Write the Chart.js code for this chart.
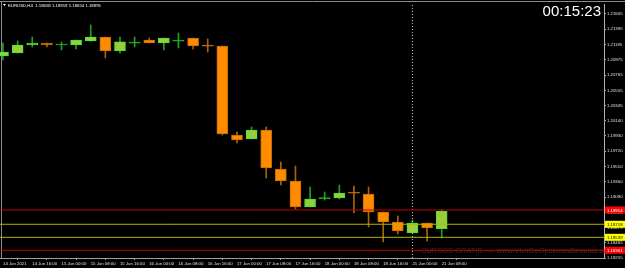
<!DOCTYPE html>
<html>
<head>
<meta charset="utf-8">
<script src="https://cdn.jsdelivr.net/npm/chart.js@4.4.0/dist/chart.umd.min.js"></script>
<style>
html,body{margin:0;padding:0;background:#000;}
#wrap{width:625px;height:268px;position:relative;}
</style>
</head>
<body>
<div id="wrap"><canvas id="c"></canvas></div>
<script>
// EURUSD H4 candles, 14 Jun 08:00 -> 21 Jun 08:00
const opens  = [1.21028,1.21070,1.21179,1.21207,1.21179,1.21179,1.21234,1.21289,1.21097,1.21205,1.21248,1.21207,1.21233,1.21275,1.21167,1.21166,1.19944,1.19889,1.20012,1.19477,1.19312,1.18955,1.19070,1.19079,1.19149,1.19134,1.18887,1.18749,1.18598,1.18736,1.18658];
const highs  = [1.21207,1.21234,1.21289,1.21207,1.21221,1.21248,1.21454,1.21289,1.21289,1.21289,1.21275,1.21275,1.21344,1.21275,1.21262,1.21166,1.19985,1.20054,1.20054,1.19573,1.19518,1.19230,1.19161,1.19257,1.19244,1.19230,1.18887,1.18832,1.18777,1.18736,1.18919];
const lows   = [1.20973,1.21070,1.21152,1.21152,1.21111,1.21124,1.21234,1.21001,1.21070,1.21152,1.21207,1.21111,1.21138,1.21124,1.21083,1.19944,1.19834,1.19889,1.19353,1.19257,1.18928,1.18955,1.19051,1.19065,1.18873,1.18681,1.18475,1.18585,1.18598,1.18488,1.18530];
const closes = [1.21083,1.21179,1.21207,1.21179,1.21182,1.21248,1.21289,1.21097,1.21221,1.21208,1.21207,1.21275,1.21236,1.21166,1.21164,1.19957,1.19875,1.20012,1.19491,1.19312,1.18955,1.19065,1.19074,1.19147,1.19146,1.18887,1.18749,1.18626,1.18736,1.18667,1.18895];

// one time label every 2 candles
const timeLabels = ["14 Jun 2021","14 Jun 16:00","15 Jun 00:00","15 Jun 08:00","15 Jun 16:00","16 Jun 00:00","16 Jun 08:00","16 Jun 16:00","17 Jun 00:00","17 Jun 08:00","17 Jun 16:00","18 Jun 00:00","18 Jun 08:00","18 Jun 16:00","21 Jun 00:00","21 Jun 08:00"];
const priceTicks = [1.21605,1.21395,1.21185,1.20975,1.20765,1.20555,1.20345,1.20140,1.19930,1.19720,1.19510,1.19300,1.19090,1.18880,1.18675,1.18465,1.18255];

const redLevels = [1.18914,1.18361];
const yellowLevels = [1.18718,1.18539];
const separatorIdx = 28;

const titleText = "EURUSD,H4  1.18658 1.18919 1.18654 1.18895";
const clockText = "00:15:23";
const watermark = "CURSOS GRATIS ---- www.VivirDeOpcionesBinarias.com";

const FONT = "'Liberation Sans', Arial, sans-serif";
const Y_MIN = 1.18255, Y_MAX = 1.21742;

const idx = opens.map((_,i)=>i);
const isDoji = i => Math.abs(opens[i]-closes[i]) < 0.00006;
const isBull = i => closes[i] >= opens[i];

const wickColor = idx.map(i => isBull(i) ? "#1ea01e" : "#a8640c");
const bodyFill = idx.map(i => isDoji(i) ? (isBull(i) ? "#22c022" : "#d07810") : (isBull(i) ? "#9ccc3c" : "#ff8c00"));
const bodyBorder = idx.map(i => isDoji(i) ? bodyFill[i] : (isBull(i) ? "#3ee83e" : "#c86a00"));

function hLine(v, color){
  return {type:"line", data:[{x:-2,y:v},{x:50,y:v}], borderColor:color, borderWidth:1,
    pointRadius:0, order:0, parsing:true};
}

const datasets = [
  {type:"bar", data:idx.map(i=>({x:i,y:[lows[i],highs[i]]})), backgroundColor:wickColor,
    barThickness:1, grouped:false, order:3, borderWidth:0},
  {type:"bar", data:idx.map(i=>({x:i,y:[opens[i],closes[i]]})), backgroundColor:bodyFill,
    borderColor:bodyBorder, borderWidth:1, borderSkipped:false, barThickness:11,
    grouped:false, order:2, minBarLength:1}
];
redLevels.forEach(v=>datasets.push(hLine(v,"#c00000")));
yellowLevels.forEach(v=>datasets.push(hLine(v,"#b4b400")));
datasets.push({type:"line", data:[{x:separatorIdx,y:Y_MIN},{x:separatorIdx,y:Y_MAX}],
  borderColor:"#c8c8c8", borderWidth:1, borderDash:[1,2], pointRadius:0, order:1});

const decor = {
  id:"decor",
  beforeDatasetsDraw(chart){
    const ctx=chart.ctx, a=chart.chartArea;
    ctx.save();
    ctx.strokeStyle="#8c8c8c"; ctx.lineWidth=1;
    ctx.beginPath(); ctx.moveTo(0,1.5); ctx.lineTo(625,1.5);
    ctx.moveTo(1.5,1); ctx.lineTo(1.5,a.bottom); ctx.stroke();
    ctx.fillStyle="#3a2c2c"; ctx.font="7.5px "+FONT; ctx.textBaseline="middle"; ctx.textAlign="left";
    ctx.fillText(watermark, 421, 250.5);
    ctx.restore();
  },
  afterDraw(chart){
    const ctx=chart.ctx, y=chart.scales.y;
    ctx.save();
    // level price boxes on the axis
    ctx.font="4.3px "+FONT; ctx.textAlign="left"; ctx.textBaseline="middle";
    const box=(v,bg,fg)=>{
      const py=y.getPixelForValue(v);
      ctx.fillStyle=bg; ctx.fillRect(605,py-3.5,20,7);
      ctx.fillStyle=fg; ctx.fillText(v.toFixed(5),607,py+0.5);
    };
    redLevels.forEach(v=>box(v,"#ff0000","#ffffff"));
    yellowLevels.forEach(v=>box(v,"#ffff00","#000000"));
    // title
    ctx.fillStyle="#ffffff";
    ctx.beginPath(); ctx.moveTo(3,4); ctx.lineTo(6,4); ctx.lineTo(4.5,6); ctx.closePath(); ctx.fill();
    ctx.fillText(titleText, 8, 5.5);
    // clock
    ctx.font="15px "+FONT; ctx.textAlign="right"; ctx.textBaseline="top";
    ctx.fillText(clockText, 601, 4);
    ctx.restore();
  }
};

new Chart(document.getElementById("c"), {
  type:"bar",
  data:{datasets:datasets},
  options:{
    responsive:true, maintainAspectRatio:false, animation:false,
    layout:{padding:{top:4,left:0,right:0,bottom:0}},
    plugins:{legend:{display:false}, tooltip:{enabled:false}},
    scales:{
      x:{type:"linear", min:-0.205, max:41.1, offset:false,
        afterBuildTicks:ax=>{ax.ticks=timeLabels.map((_,k)=>({value:k*2}));},
        afterFit:ax=>{ax.height=10;},
        grid:{drawOnChartArea:false, drawTicks:true, tickLength:2, color:"#a0a0a0"},
        border:{display:true, color:"#a0a0a0"},
        ticks:{color:"#e0e0e0", font:{family:FONT,size:4.3}, align:"start", padding:1,
          autoSkip:false, maxRotation:0, callback:v=>timeLabels[Math.round(v/2)]}
      },
      y:{type:"linear", position:"right", min:Y_MIN, max:Y_MAX,
        afterBuildTicks:ax=>{ax.ticks=priceTicks.map(v=>({value:v}));},
        afterFit:ax=>{ax.width=21;},
        grid:{drawOnChartArea:false, drawTicks:true, tickLength:2, color:"#a0a0a0"},
        border:{display:true, color:"#b0b0b0"},
        ticks:{color:"#e0e0e0", font:{family:FONT,size:4.3}, padding:1,
          callback:v=>v.toFixed(5)}
      }
    }
  },
  plugins:[decor]
});
</script>
</body>
</html>
